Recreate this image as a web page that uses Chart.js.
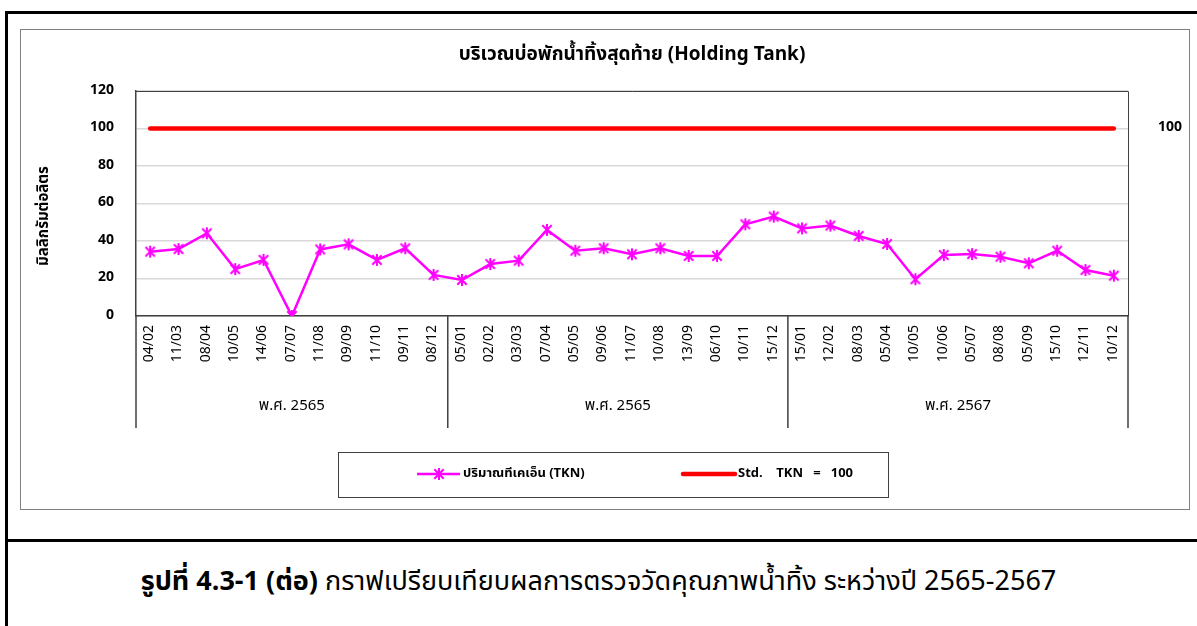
<!DOCTYPE html>
<html>
<head>
<meta charset="utf-8">
<script src="https://cdn.jsdelivr.net/npm/chart.js@4.4.1/dist/chart.umd.min.js"></script>
<style>
  body { margin: 0; background: #fff; font-family: Tahoma, "Noto Sans Thai", "Noto Sans", "DejaVu Sans", sans-serif; }
  .frame { position: absolute; left: 5px; top: 11px; width: 1200px; height: 620px; border-left: 3px solid #000; border-top: 3px solid #000; }
  .rule { position: absolute; left: 5px; top: 539px; width: 1200px; border-top: 3px solid #000; }
  .box { position: absolute; left: 20px; top: 29px; width: 1168px; height: 479px; border: 1px solid #7f7f7f; }
  .caption { position: absolute; left: 0; top: 562px; width: 1197px; text-align: center; font-size: 27px; line-height: 40px; color: #000; }
</style>
</head>
<body>
<div class="frame"></div>
<div class="rule"></div>
<div class="box"><canvas id="chart" width="1168" height="479"></canvas></div>
<div class="caption"><b>รูปที่ 4.3-1 (ต่อ)</b> กราฟเปรียบเทียบผลการตรวจวัดคุณภาพน้ำทิ้ง ระหว่างปี 2565-2567</div>
<script>
const chartTitle = "บริเวณบ่อพักน้ำทิ้งสุดท้าย (Holding Tank)";
const yTitle = "มิลลิกรัมต่อลิตร";

const dates = [
  "04/02", "11/03", "08/04", "10/05", "14/06", "07/07", "11/08", "09/09", "11/10", "09/11", "08/12",
  "05/01", "02/02", "03/03", "07/04", "05/05", "09/06", "11/07", "10/08", "13/09", "06/10", "10/11", "15/12",
  "15/01", "12/02", "08/03", "05/04", "10/05", "10/06", "05/07", "08/08", "05/09", "15/10", "12/11", "10/12"
];
const groupNames = ["พ.ศ. 2565", "พ.ศ. 2565", "พ.ศ. 2567"];
const groupSizes = [11, 12, 12];

const tkn = [
  34.3, 35.7, 44.1, 25.0, 29.9, 0, 35.5, 38.2, 29.9, 36.1, 21.9,
  19.2, 27.7, 29.5, 45.9, 34.8, 36.1, 32.9, 36.1, 32.0, 32.0, 48.9, 53.0,
  46.7, 48.2, 42.7, 38.4, 19.6, 32.5, 33.0, 31.6, 28.1, 34.8, 24.5, 21.5
];
const stdValue = 100;
const std = dates.map(() => stdValue);

const yMin = 0, yMax = 120, yStep = 20;

const FONT = 'Tahoma, "Noto Sans Thai", "Noto Sans", "DejaVu Sans", sans-serif';

// asterisk marker like the excel one
function makeStar(size, color, lw) {
  const c = document.createElement("canvas");
  c.width = c.height = size;
  const g = c.getContext("2d");
  g.strokeStyle = color;
  g.lineWidth = lw;
  const m = size / 2, r = size / 2 - 1, d = r * 0.78;
  g.beginPath();
  g.moveTo(m, m - r); g.lineTo(m, m + r);
  g.moveTo(m - d, m - d); g.lineTo(m + d, m + d);
  g.moveTo(m + d, m - d); g.lineTo(m - d, m + d);
  g.stroke();
  return c;
}
const star = makeStar(14, "#ff00ff", 2);

const decor = {
  id: "decor",
  afterDraw(chart) {
    const c = chart.ctx;
    const a = chart.chartArea;
    const xs = chart.scales.x, ys = chart.scales.y;
    c.save();

    // plot frame (top + right)
    c.strokeStyle = "#404040";
    c.lineWidth = 1;
    c.beginPath();
    c.moveTo(a.left, a.top + 0.5); c.lineTo(a.right + 0.5, a.top + 0.5); c.lineTo(a.right + 0.5, a.bottom);
    c.stroke();

    // title
    c.fillStyle = "#000";
    c.font = "bold 19px " + FONT;
    c.textAlign = "center";
    c.textBaseline = "middle";
    c.fillText(chartTitle, (a.left + a.right) / 2, 26);

    // y title
    c.save();
    c.translate(24, 186);
    c.rotate(-Math.PI / 2);
    c.font = "bold 15px " + FONT;
    c.fillText(yTitle, 0, 0);
    c.restore();

    // label for standard line
    c.font = "bold 14px " + FONT;
    c.fillText(String(stdValue), a.right + 42, ys.getPixelForValue(stdValue));

    // year groups under the dates
    c.strokeStyle = "#404040";
    c.lineWidth = 1.5;
    let idx = 0;
    const bounds = [xs.getPixelForValue(-0.5)];
    groupSizes.forEach(n => { idx += n; bounds.push(xs.getPixelForValue(idx - 0.5)); });
    c.beginPath();
    bounds.forEach(b => { c.moveTo(b, xs.top); c.lineTo(b, xs.bottom); });
    c.stroke();
    c.font = "15px " + FONT;
    groupNames.forEach((g, i) => {
      c.fillText(g, (bounds[i] + bounds[i + 1]) / 2, xs.bottom - 21);
    });

    // legend box
    const cx = chart.width / 2 + 8, ly = 444;
    c.strokeStyle = "#404040";
    c.lineWidth = 1;
    c.strokeRect(cx - 275 + 0.5, 422.5, 550, 45);
    const ds = chart.data.datasets;
    c.font = "bold 13px " + FONT;
    c.textAlign = "left";
    // pink
    c.strokeStyle = ds[0].borderColor;
    c.lineWidth = 2.5;
    c.beginPath(); c.moveTo(cx - 196, ly); c.lineTo(cx - 153, ly); c.stroke();
    c.drawImage(star, cx - 174 - 7, ly - 7);
    c.fillText(ds[0].label, cx - 150, ly);
    // red
    c.strokeStyle = ds[1].borderColor;
    c.lineWidth = 4.5;
    c.lineCap = "round";
    c.beginPath(); c.moveTo(cx + 70, ly); c.lineTo(cx + 122, ly); c.stroke();
    c.fillText(ds[1].label, cx + 125, ly);
    c.restore();
  }
};

const ctx = document.getElementById("chart").getContext("2d");
new Chart(ctx, {
  type: "line",
  data: {
    labels: dates,
    datasets: [
      {
        label: "ปริมาณทีเคเอ็น (TKN)",
        data: tkn,
        borderColor: "#ff00ff",
        backgroundColor: "#ff00ff",
        borderWidth: 2.5,
        pointStyle: star,
        pointRadius: 7,
        tension: 0
      },
      {
        label: "Std.    TKN   =   100",
        data: std,
        borderColor: "#ff0000",
        backgroundColor: "#ff0000",
        borderWidth: 4.5,
        pointRadius: 0,
        borderCapStyle: "round"
      }
    ]
  },
  options: {
    responsive: false,
    animation: false,
    layout: { padding: { top: 61, right: 61, bottom: 81, left: 0 } },
    plugins: {
      legend: { display: false },
      title: { display: false },
      tooltip: { enabled: false }
    },
    scales: {
      x: {
        offset: true,
        grid: { display: false, drawTicks: false },
        border: { color: "#404040", width: 1.5 },
        ticks: {
          autoSkip: false, minRotation: 90, maxRotation: 90, padding: 9,
          color: "#000", font: { family: FONT, size: 14 }
        },
        afterFit(s) { s.height = 112; }
      },
      y: {
        min: yMin, max: yMax,
        grid: { color: "#d9d9d9", lineWidth: 1.5, drawTicks: false },
        border: { color: "#404040", width: 1.5 },
        ticks: {
          stepSize: yStep, padding: 22,
          color: "#000", font: { family: FONT, size: 14, weight: "bold" }
        },
        afterFit(s) { s.width = 115; }
      }
    }
  },
  plugins: [decor]
});
</script>
</body>
</html>
